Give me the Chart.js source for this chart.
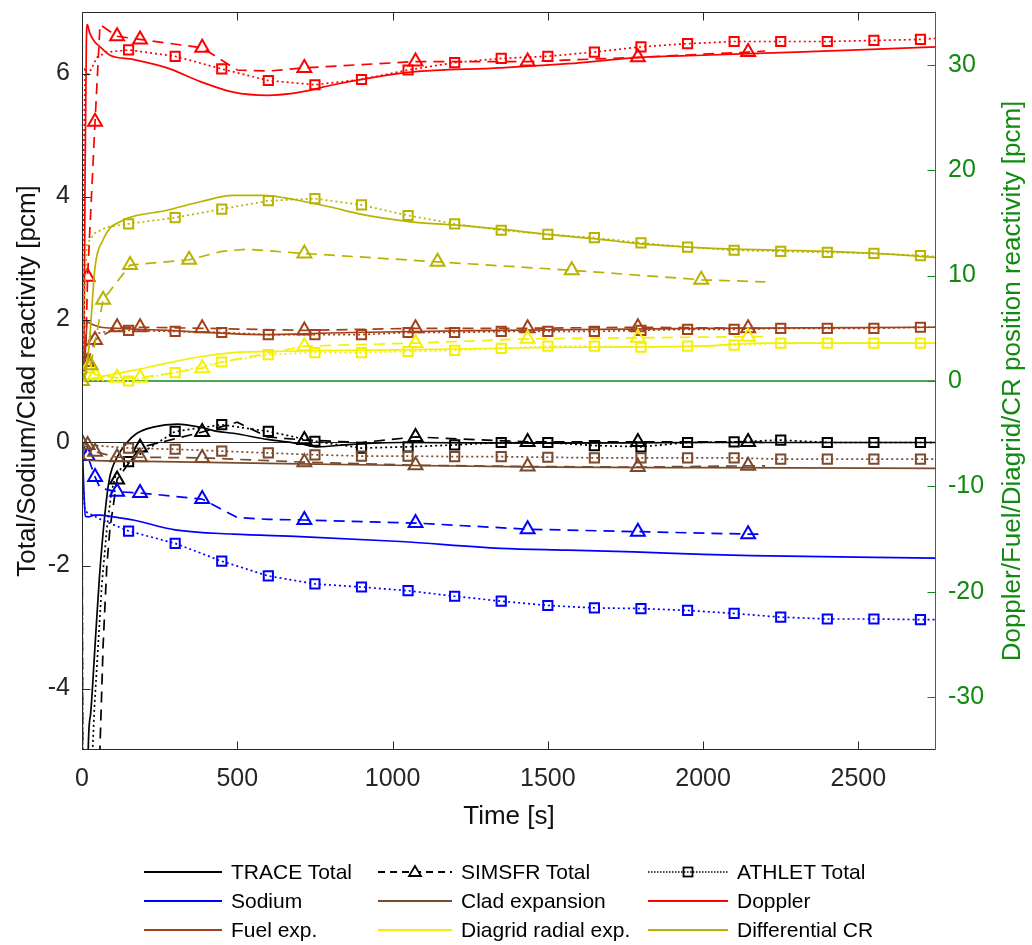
<!DOCTYPE html>
<html>
<head>
<meta charset="utf-8">
<script src="https://cdn.jsdelivr.net/npm/chart.js@4.4.1/dist/chart.umd.min.js"></script>
<style>
  body { margin: 0; background: #fff; }
  #wrap { position: relative; width: 1032px; height: 945px; font-family: "Liberation Sans", Arial, sans-serif; }
  #chart { position: absolute; left: 0; top: 0; }
  .lg { position: absolute; height: 26px; display: flex; align-items: center; font-size: 21px; color: #000; white-space: nowrap; }
  .lg svg { margin-right: 9px; }
</style>
</head>
<body>
<div id="wrap">
  <canvas id="chart" width="1032" height="945"></canvas>
  <div id="legend"></div>
</div>
<script>
// ticks
const xTicks = [0, 500, 1000, 1500, 2000, 2500];
const leftTicks = [-4, -2, 0, 2, 4, 6];
const rightTicks = [-30, -20, -10, 0, 10, 20, 30];
const rightTitle = "Doppler/Fuel/Diagrid/CR position reactivity [pcm]";

// marker times
const simMarks = [18, 42, 113, 187, 387, 716, 1074, 1435, 1790, 2145];
const cladSimMarks = [0, 18, 42, 113, 187, 387, 716, 1074, 1435, 1790, 2145];
const crSimMarks = [0, 28, 68, 155, 345, 716, 1145, 1577, 1994];
const athMarks = [150, 300, 450, 600, 750, 900, 1050, 1200, 1350, 1500, 1650, 1800, 1950, 2100, 2250, 2400, 2550, 2700];

// left axis: total / sodium / clad  [time s, pcm]
const totTrace = [[0,0],[2,-8],[14,-8],[20,-5.0],[28,-4.4],[42,-3.3],[56,-2.2],[74,-1.15],[88,-0.6],[113,-0.24],[145,0.0],[177,0.15],[229,0.25],[306,0.3],[381,0.25],[435,0.18],[487,0.15],[597,0.05],[703,-0.02],[758,-0.07],[865,-0.03],[1026,0.0],[1500,-0.01],[2000,0.0],[2750,0.0]];
const totSim = [[0,0],[3,-8],[48,-8],[58,-4.95],[68,-3.3],[80,-2.0],[90,-1.4],[113,-0.6],[187,-0.08],[387,0.17],[500,0.33],[597,0.09],[716,0.04],[900,0.0],[1074,0.09],[1435,0.01],[1790,0.01],[2145,0.01],[2200,0.0]];
const totAth = [[0,0],[3,-8],[20,-8],[30,-5.5],[40,-4.3],[52,-3.3],[64,-2.3],[80,-1.4],[95,-0.8],[110,-0.5],[150,-0.31],[300,0.18],[450,0.29],[600,0.18],[750,0.02],[900,-0.09],[1050,-0.07],[1200,-0.04],[1350,0.0],[1500,0.0],[1650,-0.05],[1800,-0.07],[1950,0.0],[2100,0.01],[2250,0.04],[2400,0.0],[2550,0.0],[2700,0.0],[2750,0.0]];

const naTrace = [[0,0],[3,-0.35],[7,-0.9],[11,-1.2],[20,-1.21],[40,-1.18],[60,-1.18],[90,-1.2],[165,-1.26],[300,-1.42],[487,-1.49],[703,-1.53],[1026,-1.61],[1348,-1.72],[1565,-1.75],[1777,-1.78],[2000,-1.82],[2155,-1.84],[2750,-1.88]];
const naSim = [[0,0],[18,-0.22],[42,-0.56],[58,-0.74],[113,-0.8],[187,-0.82],[387,-0.92],[500,-1.22],[600,-1.25],[716,-1.26],[1074,-1.31],[1435,-1.41],[1790,-1.45],[2145,-1.49],[2200,-1.49]];
const naAth = [[0,0],[4,-0.8],[10,-1.12],[60,-1.25],[150,-1.44],[300,-1.64],[450,-1.93],[600,-2.17],[750,-2.3],[900,-2.35],[1050,-2.41],[1200,-2.5],[1350,-2.58],[1500,-2.65],[1650,-2.69],[1800,-2.7],[1950,-2.73],[2100,-2.78],[2250,-2.84],[2400,-2.87],[2550,-2.87],[2700,-2.88],[2750,-2.88]];

const cladTrace = [[0,0],[4,-0.15],[8,-0.26],[30,-0.29],[100,-0.3],[500,-0.33],[1000,-0.37],[1500,-0.4],[2000,-0.41],[2750,-0.42]];
const cladSim = [[0,0],[18,-0.04],[42,-0.15],[113,-0.24],[187,-0.24],[387,-0.25],[716,-0.32],[1074,-0.37],[1435,-0.39],[1790,-0.4],[2145,-0.38],[2200,-0.38]];
const cladAth = [[0,0],[20,-0.04],[150,-0.09],[300,-0.11],[450,-0.14],[600,-0.17],[750,-0.2],[900,-0.22],[1050,-0.22],[1200,-0.23],[1350,-0.23],[1500,-0.24],[1650,-0.25],[1800,-0.25],[1950,-0.25],[2100,-0.25],[2250,-0.27],[2400,-0.27],[2550,-0.27],[2700,-0.27],[2750,-0.27]];

// right axis: doppler / fuel / diagrid / CR
const dopTrace = [[0,0],[6,2],[10,20],[14,32],[17,33.8],[25,33.0],[40,32.2],[58,31.7],[90,30.9],[165,30.5],[274,29.7],[381,28.4],[487,27.4],[597,27.1],[703,27.4],[810,28.1],[919,28.7],[1058,29.3],[1348,29.7],[1565,30.1],[1800,30.7],[2000,30.9],[2200,31.1],[2500,31.4],[2750,31.7]];
const dopSim = [[0,0],[10,0.5],[18,9.9],[42,24.6],[58,33.8],[113,32.7],[187,32.4],[387,31.6],[500,29.5],[600,29.4],[716,29.7],[1074,30.3],[1435,30.3],[1790,30.7],[2145,31.2],[2200,31.3]];
const dopAth = [[0,0],[5,20],[10,29.5],[20,29.1],[30,29.6],[48,30.7],[80,31.2],[150,31.4],[300,30.8],[450,29.6],[600,28.5],[750,28.1],[900,28.6],[1050,29.5],[1200,30.2],[1350,30.6],[1500,30.8],[1650,31.2],[1800,31.7],[1950,32.0],[2100,32.2],[2250,32.2],[2400,32.2],[2550,32.3],[2700,32.4],[2750,32.5]];

const fuelTrace = [[0,0],[8,1.0],[12,3.5],[17,5.6],[30,5.4],[60,5.1],[113,5.0],[274,4.8],[600,4.4],[865,4.6],[1348,4.8],[2000,5.0],[2750,5.1]];
const fuelSim = [[0,0],[18,1.8],[42,3.9],[113,5.1],[187,5.1],[387,5.0],[716,4.8],[1074,5.0],[1435,5.0],[1790,5.1],[2145,5.0],[2200,5.0]];
const fuelAth = [[0,0],[10,3.0],[30,4.4],[80,4.7],[150,4.8],[300,4.7],[450,4.6],[600,4.4],[750,4.4],[900,4.4],[1050,4.6],[1200,4.6],[1350,4.7],[1500,4.7],[1650,4.7],[1800,4.8],[1950,4.9],[2100,4.9],[2250,5.0],[2400,5.0],[2550,5.0],[2700,5.1],[2750,5.1]];

const diagTrace = [[0,0],[58,0.4],[165,1.0],[274,1.7],[381,2.3],[487,2.7],[597,2.8],[865,2.9],[1133,3.0],[1565,3.2],[1994,3.3],[2100,3.5],[2200,3.6],[2750,3.6]];
const diagSim = [[0,0],[18,1.2],[42,0.6],[113,0.3],[187,0.3],[387,1.2],[450,1.8],[716,3.3],[1074,3.6],[1435,4.0],[1790,4.1],[2145,4.2],[2200,4.2]];
const diagAth = [[0,0],[30,0.1],[150,0.0],[300,0.8],[450,1.8],[600,2.5],[750,2.7],[900,2.7],[1050,2.8],[1200,2.9],[1350,3.1],[1500,3.3],[1650,3.3],[1800,3.2],[1950,3.3],[2100,3.4],[2250,3.6],[2400,3.6],[2550,3.6],[2700,3.6],[2750,3.6]];

const crTrace = [[0,0],[10,0.5],[20,2.5],[26,4.5],[42,10.8],[68,13.4],[90,14.5],[123,15.1],[152,15.5],[274,16.2],[381,17.0],[487,17.6],[584,17.6],[649,17.4],[703,17.1],[800,16.5],[900,15.8],[1058,15.1],[1197,14.8],[1348,14.4],[1500,13.9],[1648,13.5],[1800,13.0],[1952,12.7],[2106,12.5],[2258,12.4],[2406,12.3],[2555,12.1],[2755,11.7]];
const crSim = [[0,0],[28,1.5],[68,7.7],[155,11.0],[345,11.5],[450,12.3],[530,12.5],[716,12.1],[1145,11.3],[1577,10.5],[1994,9.6],[2200,9.4]];
const crAth = [[0,0],[8,8],[16,13.0],[40,14.0],[80,14.6],[150,14.9],[300,15.5],[450,16.3],[600,17.1],[750,17.3],[900,16.7],[1050,15.7],[1200,14.9],[1350,14.3],[1500,13.9],[1650,13.6],[1800,13.1],[1950,12.7],[2100,12.4],[2250,12.3],[2400,12.2],[2550,12.1],[2700,11.9],[2750,11.8]];

const C = {
  black: "#000000",
  sodium: "#0000ff",
  clad: "#7a4a2c",
  fuel: "#a3401a",
  doppler: "#ff0000",
  diagrid: "#f5f000",
  cr: "#b8b300",
  axis: "#262626",
  green: "#128a12",
};

function serie(data, color, kind, axis, marks) {
  const ds = {
    data: data,
    borderColor: color,
    borderWidth: 1.7,
    yAxisID: axis,
    fill: false,
    pointBorderColor: color,
    pointBackgroundColor: "rgba(0,0,0,0)",
    pointBorderWidth: 2,
    pointHoverRadius: 0,
  };
  if (kind === "trace") {
    ds.pointRadius = 0;
    ds.cubicInterpolationMode = "monotone";
  } else if (kind === "sim") {
    ds.borderDash = [11, 7];
    ds.pointStyle = "triangle";
    ds.pointRadius = (c) => (c.raw && marks.includes(c.raw[0]) ? 8 : 0);
  } else {
    ds.borderDash = [2, 3];
    ds.pointStyle = "rect";
    ds.pointRadius = (c) => (c.raw && marks.includes(c.raw[0]) ? 6.5 : 0);
  }
  return ds;
}

const datasets = [
  serie(crTrace, C.cr, "trace", "y1"),
  serie(crSim, C.cr, "sim", "y1", crSimMarks),
  serie(crAth, C.cr, "ath", "y1", athMarks),
  serie(diagTrace, C.diagrid, "trace", "y1"),
  serie(diagSim, C.diagrid, "sim", "y1", simMarks),
  serie(diagAth, C.diagrid, "ath", "y1", athMarks),
  serie(fuelTrace, C.fuel, "trace", "y1"),
  serie(fuelSim, C.fuel, "sim", "y1", simMarks),
  serie(fuelAth, C.fuel, "ath", "y1", athMarks),
  serie(dopTrace, C.doppler, "trace", "y1"),
  serie(dopSim, C.doppler, "sim", "y1", simMarks),
  serie(dopAth, C.doppler, "ath", "y1", athMarks),
  serie(cladTrace, C.clad, "trace", "y"),
  serie(cladSim, C.clad, "sim", "y", cladSimMarks),
  serie(cladAth, C.clad, "ath", "y", athMarks),
  serie(naTrace, C.sodium, "trace", "y"),
  serie(naSim, C.sodium, "sim", "y", simMarks),
  serie(naAth, C.sodium, "ath", "y", athMarks),
  serie(totTrace, C.black, "trace", "y"),
  serie(totSim, C.black, "sim", "y", simMarks),
  serie(totAth, C.black, "ath", "y", athMarks),
];

// box, inward ticks, zero lines, right title (MATLAB look)
const axesBox = {
  id: "axesBox",
  beforeDatasetsDraw(chart) {
    const { ctx, chartArea: a, scales } = chart;
    ctx.save();
    const y0 = Math.round(scales.y.getPixelForValue(0)) + 0.5;
    ctx.strokeStyle = C.axis;
    ctx.lineWidth = 1;
    ctx.beginPath(); ctx.moveTo(a.left, y0); ctx.lineTo(a.right, y0); ctx.stroke();
    const g0 = scales.y1.getPixelForValue(0);
    ctx.strokeStyle = C.green;
    ctx.lineWidth = 1.6;
    ctx.beginPath(); ctx.moveTo(a.left, g0); ctx.lineTo(a.right, g0); ctx.stroke();
    ctx.restore();
  },
  afterDatasetsDraw(chart) {
    const { ctx, chartArea: a, scales } = chart;
    const L = Math.round(a.left) + 0.5, R = Math.round(a.right) - 0.5;
    const T = Math.round(a.top) + 0.5, B = Math.round(a.bottom) - 0.5;
    const tl = 8;
    ctx.save();
    ctx.lineWidth = 1;
    ctx.strokeStyle = C.axis;
    ctx.beginPath();
    ctx.moveTo(R, T); ctx.lineTo(L, T); ctx.lineTo(L, B); ctx.lineTo(R, B);
    xTicks.forEach((v) => {
      const px = Math.round(scales.x.getPixelForValue(v)) + 0.5;
      ctx.moveTo(px, B); ctx.lineTo(px, B - tl);
      ctx.moveTo(px, T); ctx.lineTo(px, T + tl);
    });
    leftTicks.forEach((v) => {
      const py = Math.round(scales.y.getPixelForValue(v)) + 0.5;
      ctx.moveTo(L, py); ctx.lineTo(L + tl, py);
    });
    ctx.stroke();
    ctx.strokeStyle = C.green;
    ctx.beginPath();
    ctx.moveTo(R, T); ctx.lineTo(R, B);
    rightTicks.forEach((v) => {
      const py = Math.round(scales.y1.getPixelForValue(v)) + 0.5;
      ctx.moveTo(R, py); ctx.lineTo(R - tl, py);
    });
    ctx.stroke();

    // right title reads bottom-to-top like the left one
    ctx.translate(1013, (a.top + a.bottom) / 2);
    ctx.rotate(-Math.PI / 2);
    ctx.fillStyle = C.green;
    ctx.font = '26px "Liberation Sans", Arial, sans-serif';
    ctx.textAlign = "center";
    ctx.textBaseline = "middle";
    ctx.fillText(rightTitle, 0, 0);
    ctx.restore();
  },
};

function noPad(s) {
  s.paddingTop = 0;
  s.paddingBottom = 0;
  s.paddingLeft = 0;
  s.paddingRight = 0;
}

Chart.defaults.font.family = '"Liberation Sans", Arial, sans-serif';

new Chart(document.getElementById("chart"), {
  type: "line",
  data: { datasets: datasets },
  options: {
    responsive: false,
    animation: false,
    devicePixelRatio: 1,
    layout: { padding: { top: 12, left: 0, right: 0, bottom: 0 } },
    plugins: { legend: { display: false }, tooltip: { enabled: false } },
    scales: {
      x: {
        type: "linear",
        min: 0,
        max: 2750,
        afterBuildTicks: (s) => { s.ticks = xTicks.map((v) => ({ value: v })); },
        afterFit: (s) => { s.height = 195; noPad(s); },
        grid: { display: false, drawTicks: false },
        border: { display: false },
        ticks: { color: C.axis, font: { size: 25 }, padding: 14, maxRotation: 0, callback: (v) => String(v) },
        title: { display: true, text: "Time [s]", color: "#111", font: { size: 26 }, padding: { top: 0, bottom: 113 } },
      },
      y: {
        type: "linear",
        position: "left",
        min: -5,
        max: 7,
        afterBuildTicks: (s) => { s.ticks = leftTicks.map((v) => ({ value: v })); },
        afterFit: (s) => { s.width = 82; noPad(s); },
        grid: { display: false, drawTicks: false },
        border: { display: false },
        ticks: { color: C.axis, font: { size: 25 }, padding: 12, callback: (v) => String(v) },
        title: { display: true, text: "Total/Sodium/Clad reactivity [pcm]", color: "#111", font: { size: 26 }, padding: { top: 12, bottom: 0 } },
      },
      y1: {
        type: "linear",
        position: "right",
        min: -35,
        max: 35,
        afterBuildTicks: (s) => { s.ticks = rightTicks.map((v) => ({ value: v })); },
        afterFit: (s) => { s.width = 96; noPad(s); },
        grid: { display: false, drawTicks: false },
        border: { display: false },
        ticks: { color: C.green, font: { size: 25 }, padding: 12, callback: (v) => String(v) },
        title: { display: false },
      },
    },
  },
  plugins: [axesBox],
});

// legend (3 x 3, below the axes)
const legendItems = [
  { text: "TRACE Total", color: C.black, kind: "trace" },
  { text: "SIMSFR Total", color: C.black, kind: "sim" },
  { text: "ATHLET Total", color: C.black, kind: "ath" },
  { text: "Sodium", color: C.sodium, kind: "trace" },
  { text: "Clad expansion", color: C.clad, kind: "trace" },
  { text: "Doppler", color: C.doppler, kind: "trace" },
  { text: "Fuel exp.", color: C.fuel, kind: "trace" },
  { text: "Diagrid radial exp.", color: C.diagrid, kind: "trace" },
  { text: "Differential CR", color: C.cr, kind: "trace" },
];
const colX = [144, 378, 648];
const colW = [78, 74, 80];
const rowY = [872, 901, 930];

function sampleSvg(item, w) {
  const cx = w / 2;
  let s = '<svg width="' + w + '" height="16">';
  if (item.kind === "trace") {
    s += '<line x1="0" y1="8" x2="' + w + '" y2="8" stroke="' + item.color + '" stroke-width="2"/>';
  } else if (item.kind === "sim") {
    s += '<line x1="0" y1="8" x2="' + w + '" y2="8" stroke="' + item.color + '" stroke-width="1.8" stroke-dasharray="7 5"/>';
    s += '<polygon points="' + (cx - 6) + ',12 ' + (cx + 6) + ',12 ' + cx + ',2" fill="#fff" stroke="' + item.color + '" stroke-width="1.8"/>';
  } else {
    s += '<line x1="0" y1="8" x2="' + w + '" y2="8" stroke="' + item.color + '" stroke-width="1.4" stroke-dasharray="1.5 1.5"/>';
    s += '<rect x="' + (cx - 4.5) + '" y="3.5" width="9" height="9" fill="none" stroke="' + item.color + '" stroke-width="1.8"/>';
  }
  return s + "</svg>";
}

const legendEl = document.getElementById("legend");
legendItems.forEach((item, i) => {
  const col = i % 3, row = Math.floor(i / 3);
  const d = document.createElement("div");
  d.className = "lg";
  d.style.left = colX[col] + "px";
  d.style.top = rowY[row] - 13 + "px";
  d.innerHTML = sampleSvg(item, colW[col]) + "<span>" + item.text + "</span>";
  legendEl.appendChild(d);
});
</script>
</body>
</html>
